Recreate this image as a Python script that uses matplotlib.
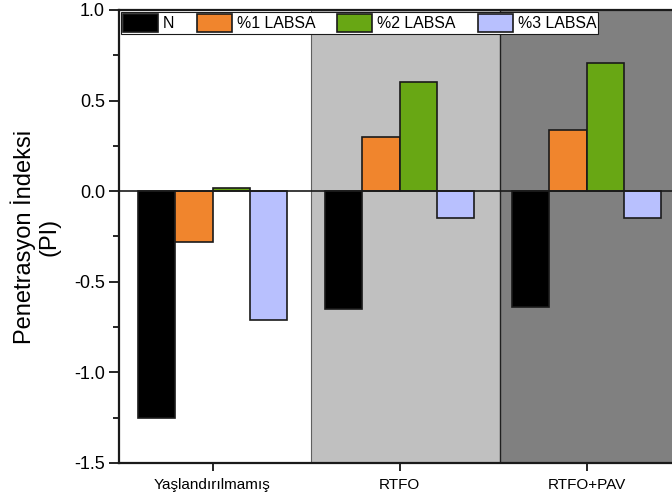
import matplotlib
matplotlib.use("Agg")
import matplotlib.pyplot as plt
import numpy as np
from matplotlib.ticker import MultipleLocator

plt.rcParams['font.family'] = ['Liberation Sans', 'DejaVu Sans']

categories = ["Yaşlandırılmamış", "RTFO", "RTFO+PAV"]
series_names = ["N", "%1 LABSA", "%2 LABSA", "%3 LABSA"]
values_N = [-1.25, -0.65, -0.64]
values_1 = [-0.28, 0.30, 0.34]
values_2 = [0.02, 0.60, 0.71]
values_3 = [-0.71, -0.15, -0.15]
colors = ["#000000", "#f0852d", "#68a714", "#b8c0fe"]
bg_colors = ["#ffffff", "#c0c0c0", "#808080"]

series = [values_N, values_1, values_2, values_3]

fig = plt.figure(figsize=(6.72, 5.01), dpi=100)
W, H = 672, 501
left, right, top, bottom = 119, 680, 10, 463
ax = fig.add_axes([left / W, 1 - bottom / H, (right - left) / W, (bottom - top) / H])

x = np.arange(1, len(categories) + 1)
ax.set_xlim(0.5, 3.5)
ax.set_ylim(-1.5, 1.0)

# background regions
bounds = [0.5, 1.525, 2.54, 3.5]
for i in range(3):
    ax.axvspan(bounds[i], bounds[i + 1], color=bg_colors[i], zorder=0, lw=0)
ax.axvline(bounds[1], color="#606060", lw=0.8, zorder=1)
ax.axvline(bounds[2], color="#202020", lw=1.0, zorder=1)

w = 0.2
offsets = [-0.3, -0.1, 0.1, 0.3]
for vals, off, c, name in zip(series, offsets, colors, series_names):
    ax.bar(x + off, vals, width=w, color=c, edgecolor="#1a1a1a", linewidth=1.2,
           label=name, zorder=3)

ax.axhline(0, color="#1a1a1a", lw=1.2, zorder=4)

ax.set_xticks(x)
ax.set_xticklabels(categories, fontsize=11)
yt = np.arange(-1.5, 1.01, 0.5)
ax.set_yticks(yt)
ax.set_yticklabels([f"{v:.1f}" for v in yt], fontsize=13)
ax.yaxis.set_minor_locator(MultipleLocator(0.25))
ax.tick_params(axis='y', which='major', direction='out', length=7, width=1.2, pad=3)
ax.tick_params(axis='y', which='minor', direction='out', length=4, width=1.2)
ax.tick_params(axis='x', which='major', direction='out', length=6, width=1.2, pad=5)

for s in ["left", "bottom", "top"]:
    ax.spines[s].set_linewidth(1.6)
    ax.spines[s].set_color("#1a1a1a")
ax.spines["right"].set_visible(False)

ax.set_ylabel("Penetrasyon İndeksi\n(PI)", fontsize=17, labelpad=10, linespacing=1.15)

fs = 11.4
leg = ax.legend(loc="upper left", ncol=4, prop={'size': fs}, frameon=True, fancybox=False,
                framealpha=1, edgecolor="#1a1a1a", bbox_to_anchor=(0.0, 1.0),
                borderaxespad=0.15, handlelength=2.2, handleheight=1.35,
                columnspacing=1.4, handletextpad=0.32, borderpad=0.12)
leg.get_frame().set_linewidth(0.8)
leg.set_zorder(10)

fig.savefig("out.png", dpi=100)
